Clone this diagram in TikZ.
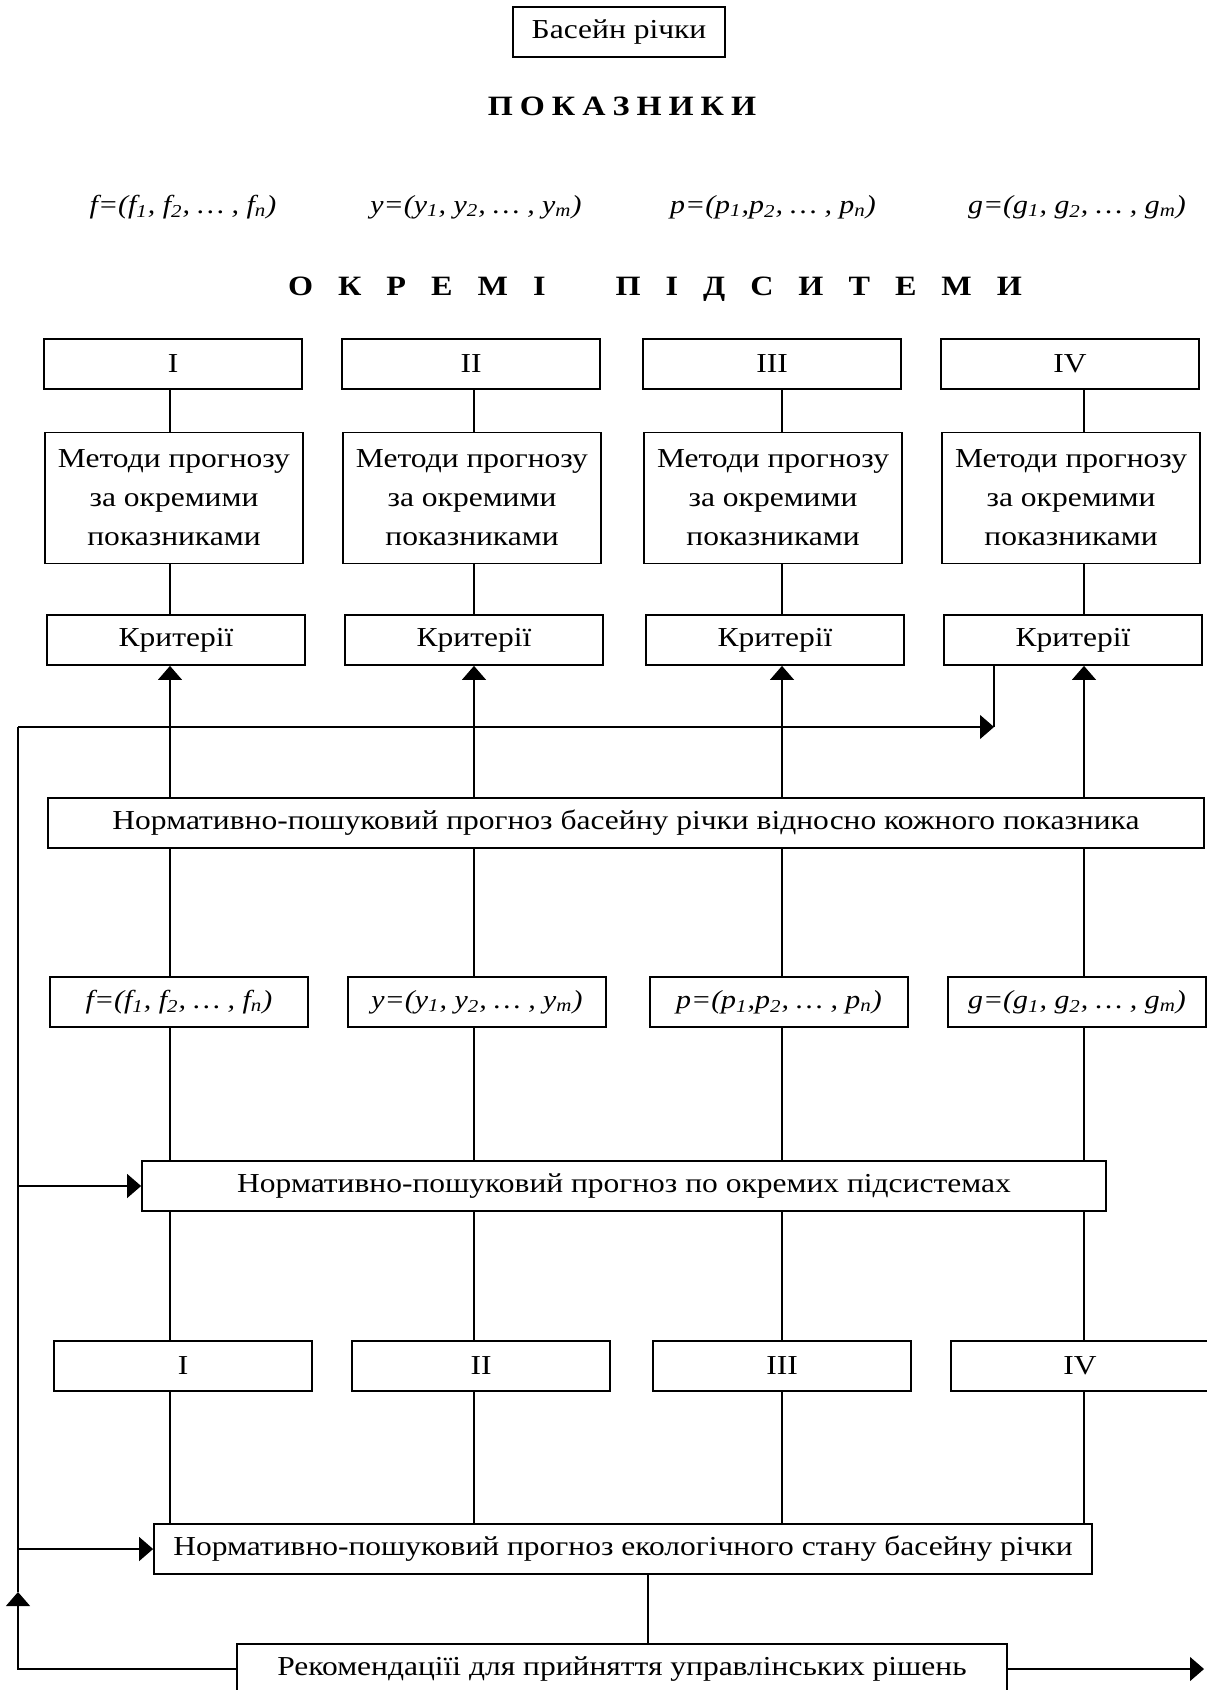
\documentclass[tikz,border=0pt]{standalone}
\usepackage{fontspec}
\setmainfont{Liberation Serif}[FakeStretch=1.15]
\usetikzlibrary{arrows.meta}
\newcommand{\sub}[1]{\textsubscript{#1}}
\newcommand{\spread}[2]{{\spaceskip=#1\relax#2}}
\newcommand{\fvec}{f=(f\sub{1}, f\sub{2}, … , f\sub{n})}
\newcommand{\yvec}{y=(y\sub{1}, y\sub{2}, … , y\sub{m})}
\newcommand{\pvec}{p=(p\sub{1},p\sub{2}, … , p\sub{n})}
\newcommand{\gvec}{g=(g\sub{1}, g\sub{2}, … , g\sub{m})}
\tikzset{
	box/.style={draw, line width=.9pt, minimum width=129pt, minimum height=25pt, inner sep=1pt, align=center},
	wide/.style={draw, line width=.9pt, minimum height=25pt, inner sep=1pt},
	formula/.style={font=\fontsize{13}{16}\selectfont\itshape},
	heading/.style={font=\bfseries\fontsize{14}{16}\selectfont},
	arr/.style={-{Triangle[length=7pt,width=12pt]}}
}
\begin{document}
\begin{tikzpicture}[x=.5pt, y=-.5pt, line width=.6pt, font=\fontsize{13.7}{19.5}\selectfont]
	\useasboundingbox (0,0) rectangle (1206,1690);
	% title and headings
	\node[box, minimum width=106pt] (basin) at (619,32) {Басейн річки};
	\node[heading] (pok) at (622,106) {\spread{3.5pt}{П О К А З Н И К И}};
	\node[heading] (sub) at (655,289) {\spread{12.5pt}{О К Р Е М І\hspace{35pt}П І Д С И Т Е М И}};
	\foreach \i/\x/\v in {1/183/\fvec,2/476/\yvec,3/773/\pvec,4/1077/\gvec}
		\node[formula] (v\i) at (\x,207) {\v};
	% columns
	\foreach \i/\x/\r in {1/173/I,2/471/II,3/772/III,4/1070/IV}{
		\node[box] (t\i) at (\x,364) {\r};
		\node[box, minimum height=65.5pt] (m\i) at (\x+1,498) {Методи прогнозу\\за окремими\\показниками};
		\node[box] (k\i) at (\x+3,640) {Критерії};
		\node[box] (r\i) at (\x+10,1366) {\r};
	}
	\foreach \i/\x/\v in {1/179/\fvec,2/477/\yvec,3/779/\pvec,4/1077/\gvec}
		\node[box, formula] (f\i) at (\x,1002) {\v};
	\node[wide, minimum width=578pt] (n1) at (626,823) {Нормативно-пошуковий прогноз басейну річки відносно кожного показника};
	\node[wide, minimum width=482pt] (n2) at (624,1186) {Нормативно-пошуковий прогноз по окремих підсистемах\hspace{27pt}};
	\node[wide, minimum width=469pt] (n3) at (623,1549) {Нормативно-пошуковий прогноз екологічного стану басейну річки};
	\node[wide, minimum width=385pt] (rec) at (622,1669) {Рекомендаціїі для прийняття управлінських рішень};
	% connectors
	\foreach \i/\c in {1/170,2/474,3/782,4/1084}{
		\coordinate (c\i) at (\c,0);
		\draw (t\i.south -| c\i) -- (m\i.north -| c\i);
		\draw (m\i.south -| c\i) -- (k\i.north -| c\i);
		\draw[arr] (n1.north -| c\i) -- (k\i.south -| c\i);
		\draw (n1.south -| c\i) -- (f\i.north -| c\i);
		\draw (f\i.south -| c\i) -- (n2.north -| c\i);
		\draw (n2.south -| c\i) -- (r\i.north -| c\i);
		\draw (r\i.south -| c\i) -- (n3.north -| c\i);
	}
	\coordinate (mid) at (648,0);
	\draw (n3.south -| mid) -- (rec.north -| mid);
	% feedback loop
	\coordinate (lt) at (18,727);
	\coordinate (kr) at (994,727);
	\coordinate (up) at (18,1592);
	\coordinate (out) at (1204,1669);
	\draw[arr] (rec.west) -| (up);
	\draw (up) -- (lt);
	\draw[arr] (lt) -- (kr);
	\draw (k4.south -| kr) -- (kr);
	\draw[arr] (lt |- n2.west) -- (n2.west);
	\draw[arr] (lt |- n3.west) -- (n3.west);
	\draw[arr] (rec.east) -- (out);
\end{tikzpicture}
\end{document}
